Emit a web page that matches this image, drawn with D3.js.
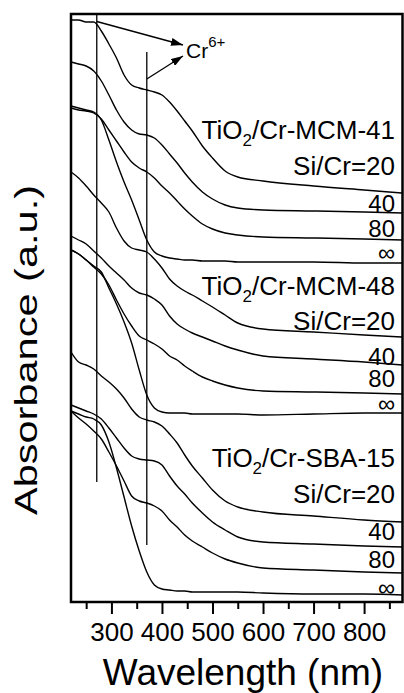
<!DOCTYPE html>
<html lang="en">
<head>
    <meta charset="UTF-8"/>
    <title>UV-vis spectra</title>
    <script src="https://d3js.org/d3.v7.min.js"></script>
    <style>
        body { margin: 0; background: #fff; }
        text { font-family: "Liberation Sans", Arial, sans-serif; fill: #000; }
    </style>
</head>
<body>
<div class="chart"></div>

<script>

    // wavelength grid (nm) shared by all spectra
    const wavelengths = [220, 235, 250, 265, 280, 295, 310, 325, 340, 355, 370, 385, 400, 415, 430, 445, 460, 480, 500, 525, 550, 600, 700, 800, 876];

    // stacked absorbance (a.u., offsets included)
    const mcm41_20  = [582, 582, 580, 580, 571, 558, 544, 527, 517, 514, 512, 510, 507, 500, 491, 481, 471, 456, 444, 431, 425, 421, 416, 412, 409];
    const mcm41_40  = [540, 538, 536, 531, 521, 507, 492, 480, 472, 468, 467, 464, 457, 448, 439, 429, 420, 410, 403, 397, 394, 392, 391, 390, 389];
    const mcm41_80  = [494, 492, 491, 489, 483, 472, 461, 450, 440, 434, 430, 424, 416, 409, 401, 393, 386, 378, 373, 369, 367, 365, 364, 363, 362];
    const mcm41_inf = [496, 494, 492, 490, 482, 462, 440, 420, 402, 382, 362, 350, 346, 344, 343, 342, 342, 341, 341, 341, 340, 340, 340, 339, 339];

    const mcm48_20  = [430, 424, 416, 407, 399, 390, 374, 361, 354, 352, 350, 343, 334, 323, 316, 311, 307, 301, 295, 287, 279, 273, 270, 267, 265];
    const mcm48_40  = [366, 362, 358, 351, 344, 336, 329, 322, 314, 309, 307, 303, 297, 286, 278, 273, 269, 265, 261, 256, 252, 246, 243, 240, 237];
    const mcm48_80  = [352, 348, 342, 335, 328, 317, 302, 288, 276, 266, 262, 258, 253, 246, 242, 236, 231, 225, 221, 217, 214, 211, 210, 209, 208];
    const mcm48_inf = [352, 348, 342, 336, 330, 314, 298, 280, 259, 232, 207, 194, 190, 189, 189, 189, 188, 188, 188, 188, 188, 187, 188, 189, 189];

    const sba15_20  = [250, 240, 237, 233, 226, 220, 213, 204, 193, 185, 182, 180, 176, 168, 159, 147, 136, 124, 112, 101, 95, 90, 86, 82, 80];
    const sba15_40  = [197, 194, 191, 188, 183, 174, 164, 154, 146, 143, 142, 141, 137, 126, 116, 108, 99, 89, 80, 72, 65, 60, 58, 56, 55];
    const sba15_80  = [191, 184, 178, 171, 163, 150, 136, 121, 106, 101, 99, 96, 91, 82, 75, 67, 61, 55, 49, 43, 39, 34, 32, 30, 29];
    const sba15_inf = [191, 188, 185, 183, 177, 160, 134, 105, 76, 51, 30, 17, 13, 12, 11, 11, 10, 10, 10, 10, 10, 9, 8, 8, 7];

    const groupNames = ["MCM-41", "MCM-48", "SBA-15"];
    const ratioLabels = ["Si/Cr=20", "40", "80", "\u221E"];
    const xTicksMajor = [300, 400, 500, 600, 700, 800];
    const xTicksMinor = [250, 350, 450, 550, 650, 750, 850];

    // Cr6+ marker lines: wavelength and vertical extent (a.u.)
    const markerLines = [
        {w: 271, from: 120, to: 588},
        {w: 370, from: 57, to: 550}
    ];

    const series = [
        mcm41_20, mcm41_40, mcm41_80, mcm41_inf,
        mcm48_20, mcm48_40, mcm48_80, mcm48_inf,
        sba15_20, sba15_40, sba15_80, sba15_inf
    ];

    const W = 404, H = 693;
    const margin = {top: 14, right: 1.5, bottom: 91, left: 71};
    const width = W - margin.left - margin.right,
        height = H - margin.top - margin.bottom;

    const svg = d3.select(".chart")
        .append("svg")
        .attr("width", W)
        .attr("height", H);

    svg.append("rect").attr("width", W).attr("height", H).attr("fill", "white");

    const g = svg.append("g")
        .attr("transform", `translate(${margin.left}, ${margin.top})`);

    const x = d3.scaleLinear().domain([220, 876]).range([0, width]);
    const y = d3.scaleLinear().domain([0, 588]).range([height, 0]);

    const defs = svg.append("defs");
    defs.append("clipPath").attr("id", "plotClip")
        .append("rect").attr("width", width).attr("height", height);

    defs.append("marker")
        .attr("id", "arrow")
        .attr("viewBox", "0 0 12 8")
        .attr("refX", 12).attr("refY", 4)
        .attr("markerWidth", 12).attr("markerHeight", 8)
        .attr("markerUnits", "userSpaceOnUse")
        .attr("orient", "auto")
        .append("path")
        .attr("d", "M0,0 L12,4 L0,8 Z")
        .attr("fill", "black");

    // spectra
    const line = d3.line()
        .x((d, i) => x(wavelengths[i]))
        .y(d => y(d))
        .curve(d3.curveMonotoneX);

    g.append("g")
        .attr("clip-path", "url(#plotClip)")
        .selectAll("path")
        .data(series)
        .join("path")
        .attr("d", line)
        .attr("fill", "none")
        .attr("stroke", "black")
        .attr("stroke-width", 1.4);

    // vertical marker lines
    g.selectAll(".mark")
        .data(markerLines)
        .join("line")
        .attr("class", "mark")
        .attr("x1", d => x(d.w)).attr("x2", d => x(d.w))
        .attr("y1", d => y(d.to)).attr("y2", d => y(d.from))
        .attr("stroke", "black")
        .attr("stroke-width", 1.3);

    // arrows to Cr6+ label
    const crX = 186, crY = 58;
    g.append("line")
        .attr("x1", x(markerLines[0].w)).attr("y1", 7.5)
        .attr("x2", crX - 3 - margin.left).attr("y2", 31)
        .attr("stroke", "black").attr("stroke-width", 1.3)
        .attr("marker-end", "url(#arrow)");
    g.append("line")
        .attr("x1", x(markerLines[1].w)).attr("y1", 65)
        .attr("x2", crX - 3 - margin.left).attr("y2", 42)
        .attr("stroke", "black").attr("stroke-width", 1.3)
        .attr("marker-end", "url(#arrow)");

    const cr = svg.append("text")
        .attr("x", crX).attr("y", crY)
        .style("font-size", "21px");
    cr.append("tspan").text("Cr");
    cr.append("tspan").attr("dy", -11).style("font-size", "15px").text("6+");

    // group labels
    const labelY = [[139, 175, 212, 237, 261], [295, 330, 365, 387, 412], [467, 503, 540, 568, 596]];
    const labelX = 395;
    groupNames.forEach((name, gi) => {
        const t = svg.append("text")
            .attr("x", labelX).attr("y", labelY[gi][0])
            .attr("text-anchor", "end")
            .style("font-size", "26px");
        t.append("tspan").text("TiO");
        t.append("tspan").attr("dy", 7).style("font-size", "17px").text("2");
        t.append("tspan").attr("dy", -7).text("/Cr-" + name);

        ratioLabels.forEach((lab, li) => {
            svg.append("text")
                .attr("x", labelX).attr("y", labelY[gi][li + 1])
                .attr("text-anchor", "end")
                .style("font-size", li === 0 ? "26px" : "24px")
                .text(lab);
        });
    });

    // x axis
    const axisMajor = g.append("g")
        .attr("transform", `translate(0, ${height})`)
        .call(d3.axisBottom(x).tickValues(xTicksMajor).tickSize(12).tickPadding(9).tickFormat(d3.format("d")));
    axisMajor.select(".domain").remove();
    axisMajor.selectAll(".tick line").attr("stroke-width", 2);
    axisMajor.selectAll(".tick text")
        .style("font-family", "'Liberation Sans', Arial, sans-serif")
        .style("font-size", "26px");

    const axisMinor = g.append("g")
        .attr("transform", `translate(0, ${height})`)
        .call(d3.axisBottom(x).tickValues(xTicksMinor).tickSize(7).tickFormat(""));
    axisMinor.select(".domain").remove();
    axisMinor.selectAll(".tick line").attr("stroke-width", 2);

    // frame
    g.append("rect")
        .attr("width", width).attr("height", height)
        .attr("fill", "none")
        .attr("stroke", "black")
        .attr("stroke-width", 2.5);

    // axis titles
    svg.append("text")
        .attr("x", margin.left + 172).attr("y", 685)
        .attr("text-anchor", "middle")
        .style("font-size", "37px")
        .text("Wavelength (nm)");

    svg.append("text")
        .attr("transform", `translate(37, 350) rotate(-90)`)
        .attr("text-anchor", "middle")
        .attr("textLength", 330)
        .attr("lengthAdjust", "spacingAndGlyphs")
        .style("font-size", "31px")
        .text("Absorbance (a.u.)");

</script>
</body>
</html>
